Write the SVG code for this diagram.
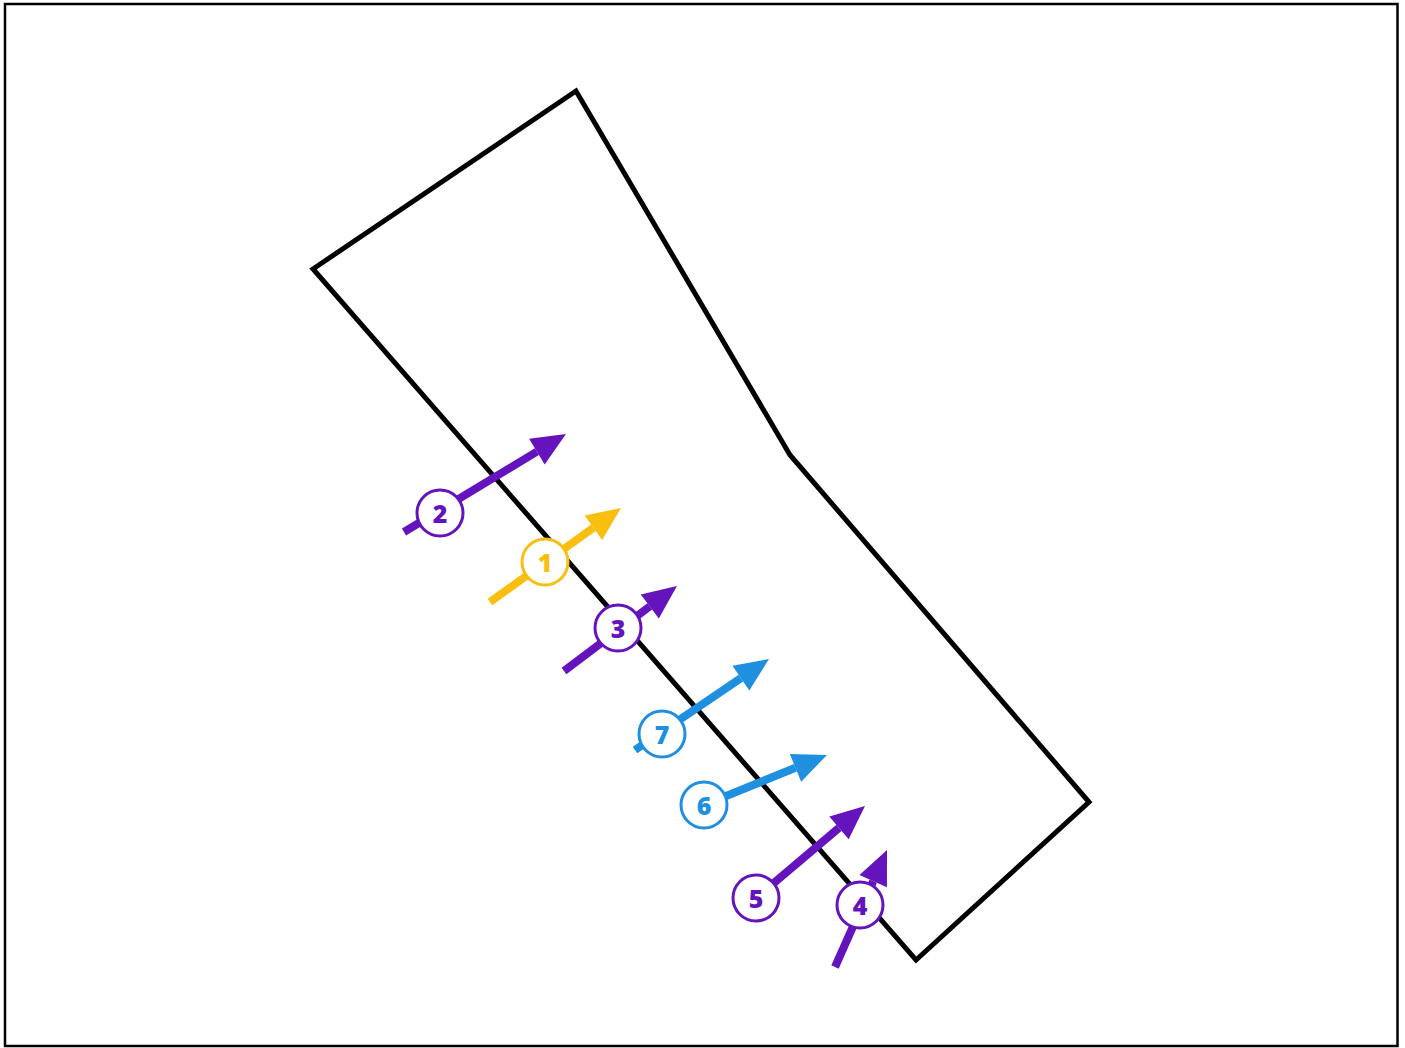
<svg xmlns="http://www.w3.org/2000/svg" width="1405" height="1048" viewBox="0 0 1405 1048">
<style>
.p{stroke:#6514bd}.y{stroke:#f8bf10}.b{stroke:#1f8fe0}
.ln{fill:none;stroke-width:8}
.c{fill:#fff;stroke-width:3}
.t{font-family:"Open Sans","Liberation Sans",sans-serif;font-weight:800;font-size:25px;text-anchor:middle;dominant-baseline:central}
</style>
<defs>
<marker id="mp" markerUnits="userSpaceOnUse" orient="auto" markerWidth="40" markerHeight="40" refX="0" refY="16" viewBox="0 0 40 32" overflow="visible"><path d="M0,1 L34,16 L0,31 z" fill="#6514bd"/></marker>
<marker id="my" markerUnits="userSpaceOnUse" orient="auto" markerWidth="40" markerHeight="40" refX="0" refY="16" viewBox="0 0 40 32" overflow="visible"><path d="M0,1 L34,16 L0,31 z" fill="#f8bf10"/></marker>
<marker id="mb" markerUnits="userSpaceOnUse" orient="auto" markerWidth="40" markerHeight="40" refX="0" refY="16" viewBox="0 0 40 32" overflow="visible"><path d="M0,1 L34,16 L0,31 z" fill="#1f8fe0"/></marker>
</defs>
<rect x="0" y="0" width="1405" height="1048" fill="#fff"/>
<rect x="5" y="4" width="1392.5" height="1042" fill="none" stroke="#000" stroke-width="2.5"/>
<polygon id="area" points="313,269 576,91 790,455 1089,802 916,960" fill="none" stroke="#000" stroke-width="5" stroke-linejoin="miter"/>
<g id="connectors">
<line class="ln y" x1="490" y1="602" x2="593.4" y2="527.8" marker-end="url(#my)"/>
<line class="ln p" x1="404" y1="532" x2="536.9" y2="451.6" marker-end="url(#mp)"/>
<line class="ln p" x1="564" y1="671" x2="649.8" y2="606.4" marker-end="url(#mp)"/>
<line class="ln p" x1="835" y1="967" x2="873.2" y2="881.1" marker-end="url(#mp)"/>
<line class="ln p" x1="756" y1="898" x2="839" y2="827.9" marker-end="url(#mp)"/>
<line class="ln b" x1="704" y1="805" x2="795.5" y2="767.8" marker-end="url(#mb)"/>
<line class="ln b" x1="635" y1="750" x2="740.9" y2="678.1" marker-end="url(#mb)"/>
</g>
<g id="n1"><circle class="c y" cx="545" cy="562" r="23"/><text class="t" x="545" y="562" fill="#f8bf10">1</text></g>
<g id="n2"><circle class="c p" cx="440" cy="513" r="23"/><text class="t" x="440" y="513" fill="#6514bd">2</text></g>
<g id="n3"><circle class="c p" cx="618" cy="628" r="23"/><text class="t" x="618" y="628" fill="#6514bd">3</text></g>
<g id="n4"><circle class="c p" cx="860" cy="905" r="23"/><text class="t" x="860" y="905" fill="#6514bd">4</text></g>
<g id="n5"><circle class="c p" cx="756" cy="898" r="23"/><text class="t" x="756" y="898" fill="#6514bd">5</text></g>
<g id="n6"><circle class="c b" cx="704" cy="805" r="23"/><text class="t" x="704" y="805" fill="#1f8fe0">6</text></g>
<g id="n7"><circle class="c b" cx="662" cy="734" r="23"/><text class="t" x="662" y="734" fill="#1f8fe0">7</text></g>
</svg>
